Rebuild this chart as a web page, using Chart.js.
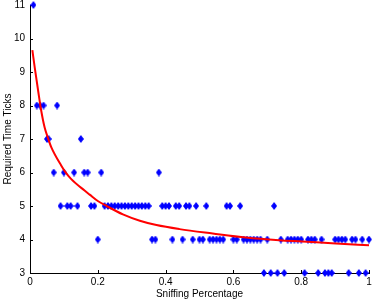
<!DOCTYPE html>
<html>
<head>
<meta charset="utf-8">
<script src="https://cdn.jsdelivr.net/npm/chart.js@4/dist/chart.umd.min.js"></script>
<style>
html,body{margin:0;padding:0;background:#fff;}
canvas{display:block;}
</style>
</head>
<body>
<canvas id="c" width="374" height="301"></canvas>
<script>
// Scatter points grouped by required time ticks (y) -> sniffing percentages (x)
const ticks11 = [0.01];
const ticks8 = [0.02, 0.03, 0.04, 0.08];
const ticks7 = [0.05, 0.055, 0.15];
const ticks6 = [0.07, 0.10, 0.13, 0.16, 0.17, 0.21, 0.38];
const ticks5 = [0.09, 0.11, 0.12, 0.14, 0.18, 0.19, 0.22, 0.23, 0.24, 0.25, 0.26, 0.27, 0.28, 0.29, 0.30, 0.31, 0.32, 0.33, 0.34, 0.35, 0.39, 0.40, 0.41, 0.43, 0.44, 0.46, 0.47, 0.49, 0.52, 0.58, 0.59, 0.62, 0.72];
const ticks4 = [0.20, 0.36, 0.37, 0.42, 0.45, 0.48, 0.50, 0.51, 0.53, 0.54, 0.55, 0.56, 0.57, 0.60, 0.61, 0.63, 0.64, 0.65, 0.66, 0.67, 0.68, 0.70, 0.74, 0.76, 0.77, 0.78, 0.79, 0.80, 0.82, 0.83, 0.84, 0.86, 0.90, 0.91, 0.92, 0.93, 0.95, 0.96, 0.98, 1.0];
const ticks3 = [0.69, 0.71, 0.73, 0.75, 0.81, 0.85, 0.87, 0.88, 0.89, 0.94, 0.97, 0.99];

// Fitted curve
const fitX = [0.007, 0.014, 0.024, 0.033, 0.043, 0.053, 0.063, 0.092, 0.104, 0.121, 0.161, 0.176, 0.2, 0.226, 0.274, 0.324, 0.373, 0.441, 0.539, 0.637, 0.735, 0.804, 0.902, 1.0];
const fitY = [9.65, 9.13, 8.44, 7.85, 7.35, 7.03, 6.75, 6.21, 6.02, 5.81, 5.46, 5.34, 5.15, 5.0, 4.75, 4.56, 4.43, 4.31, 4.18, 4.06, 3.98, 3.94, 3.88, 3.83];

const xTickValues = [0, 0.2, 0.4, 0.6, 0.8, 1];
const yTickValues = [3, 4, 5, 6, 7, 8, 9, 10, 11];

const groups = [[11, ticks11], [8, ticks8], [7, ticks7], [6, ticks6], [5, ticks5], [4, ticks4], [3, ticks3]];
const points = [];
groups.forEach(([y, xs]) => xs.forEach(x => points.push({x: x, y: y})));
const curve = fitX.map((x, i) => ({x: x, y: fitY[i]}));

// Diamond marker
const dia = document.createElement('canvas');
dia.width = 6; dia.height = 8;
const dctx = dia.getContext('2d');
dctx.fillStyle = '#0000ff';
dctx.beginPath();
dctx.moveTo(3, 0); dctx.lineTo(6, 4); dctx.lineTo(3, 8); dctx.lineTo(0, 4);
dctx.closePath(); dctx.fill();

const FONT = {family: '"Liberation Sans", Arial, Helvetica, sans-serif', size: 10};

const inwardTicks = {
  id: 'inwardTicks',
  beforeDatasetsDraw(chart) {
    const ctx = chart.ctx;
    const xs = chart.scales.x, ys = chart.scales.y;
    const a = chart.chartArea;
    ctx.save();
    ctx.strokeStyle = '#000';
    ctx.lineWidth = 1;
    ctx.beginPath();
    xs.ticks.forEach(t => {
      const px = Math.round(xs.getPixelForValue(t.value)) + 0.5;
      ctx.moveTo(px, a.bottom); ctx.lineTo(px, a.bottom - 3);
    });
    ys.ticks.forEach(t => {
      const py = Math.round(ys.getPixelForValue(t.value)) + 0.5;
      ctx.moveTo(a.left, py); ctx.lineTo(a.left + 3, py);
    });
    ctx.stroke();
    ctx.restore();
  }
};

new Chart(document.getElementById('c'), {
  type: 'scatter',
  data: {
    datasets: [
      {
        data: points,
        pointStyle: dia,
        pointRadius: 4,
        showLine: false,
        clip: false,
        order: 2
      },
      {
        data: curve,
        showLine: true,
        borderColor: '#ff0000',
        borderWidth: 2,
        pointRadius: 0,
        cubicInterpolationMode: 'monotone',
        fill: false,
        clip: false,
        order: 1
      }
    ]
  },
  options: {
    responsive: false,
    animation: false,
    devicePixelRatio: 1,
    layout: {padding: {top: 4, right: 4, left: 0, bottom: 0}},
    plugins: {legend: {display: false}, tooltip: {enabled: false}},
    scales: {
      x: {
        type: 'linear',
        min: 0, max: 1,
        afterBuildTicks(s) { s.ticks = xTickValues.map(v => ({value: v})); },
        ticks: {color: '#000', font: FONT, padding: 3, maxRotation: 0,
                callback: v => String(v)},
        grid: {display: true, drawOnChartArea: false, drawTicks: false},
        border: {display: true, color: '#000', width: 1},
        title: {display: true, text: 'Sniffing Percentage', color: '#000', font: FONT, padding: {top: 0, bottom: 1}},
        afterFit(s) { s.height = 28; s.paddingLeft = 0; s.paddingRight = 0; }
      },
      y: {
        type: 'linear',
        min: 3, max: 11,
        afterBuildTicks(s) { s.ticks = yTickValues.map(v => ({value: v})); },
        ticks: {color: '#000', font: FONT, padding: 5, callback: v => String(v)},
        grid: {display: true, drawOnChartArea: false, drawTicks: false},
        border: {display: true, color: '#000', width: 1},
        title: {display: true, text: 'Required Time Ticks', color: '#000', font: FONT, padding: {top: 2, bottom: 0}},
        afterFit(s) { s.width = 30; s.paddingTop = 0; s.paddingBottom = 0; }
      }
    }
  },
  plugins: [inwardTicks]
});
</script>
</body>
</html>
